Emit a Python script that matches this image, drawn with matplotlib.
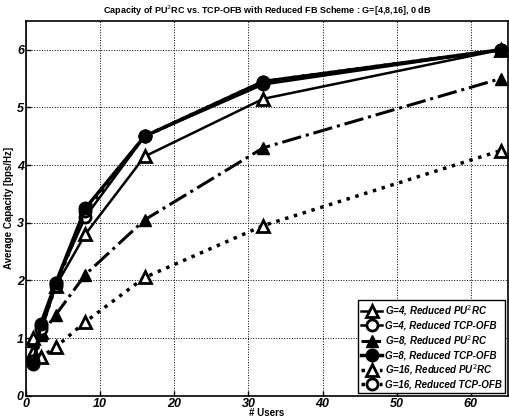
import matplotlib.pyplot as plt
import numpy as np

users = [1, 2, 4, 8, 16, 32, 64]

g4_pu2rc = [0.75, 1.1, 1.9, 2.8, 4.15, 5.15, 6.0]
g4_tcp = [0.6, 1.2, 1.95, 3.1, 4.5, 5.4, 6.0]
g8_pu2rc = [0.95, 1.05, 1.4, 2.1, 3.05, 4.3, 5.5]
g8_tcp = [0.55, 1.25, 1.95, 3.25, 4.5, 5.45, 6.0]
g16_pu2rc = [1.0, 0.67, 0.84, 1.28, 2.05, 2.95, 4.25]
g16_tcp = [0.6, 1.15, 1.9, 3.2, 4.5, 5.45, 6.0]

labels = ["G=4, Reduced PU$^2$RC", "G=4, Reduced TCP-OFB",
          "G=8, Reduced PU$^2$RC", "G=8, Reduced TCP-OFB",
          "G=16, Reduced PU$^2$RC", "G=16, Reduced TCP-OFB"]

plt.rcParams['font.family'] = ['Liberation Sans', 'DejaVu Sans']

fig = plt.figure(figsize=(5.1, 4.2), dpi=100)
ax = fig.add_axes([0.051, 0.058, 0.945, 0.892])

lw = 1.8
ms = 8
ax.plot(users, g4_pu2rc, '-', color='k', lw=lw, marker='^', ms=ms, mfc='white', mew=2, label=labels[0], zorder=3)
ax.plot(users, g4_tcp, '-', color='k', lw=lw, marker='o', ms=ms, mfc='white', mew=2, label=labels[1], zorder=3)
ax.plot(users, g8_pu2rc, '-.', color='k', lw=2.2, marker='^', ms=ms + 1, mfc='k', label=labels[2], zorder=3)
ax.plot(users, g8_tcp, '-', color='k', lw=2.5, marker='o', ms=ms + 1, mfc='k', label=labels[3], zorder=5)
ax.plot(users, g16_pu2rc, ':', color='k', lw=2.5, marker='^', ms=ms, mfc='white', mew=2, label=labels[4], zorder=3)
ax.plot(users, g16_tcp, ':', color='k', lw=2.5, marker='o', ms=ms, mfc='white', mew=2, label=labels[5], zorder=4)

ax.set_xlim(0, 65)
ax.set_ylim(0, 6.5)
ax.set_xticks(np.arange(0, 70, 10))
ax.set_yticks(np.arange(0, 7, 1))
ax.grid(True, linestyle=':', color='k', lw=0.7)
ax.tick_params(direction='in', labelsize=9, pad=1.5, width=1)
for t in ax.get_xticklabels() + ax.get_yticklabels():
    t.set_fontweight('bold')
    t.set_fontstyle('italic')
for s in ax.spines.values():
    s.set_linewidth(1.2)

ax.set_xlabel("# Users", fontsize=7, fontweight='bold', labelpad=-1)
ax.set_ylabel("Average Capacity [bps/Hz]", fontsize=7, fontweight='bold', labelpad=2)
ax.set_title("Capacity of PU$^2$RC vs. TCP-OFB with Reduced FB Scheme : G=[4,8,16], 0 dB",
             fontsize=6.5, fontweight='bold', pad=5)

leg = ax.legend(loc='lower right', prop={'weight': 'bold', 'style': 'italic', 'size': 7},
                handlelength=2.2, handletextpad=0.3, labelspacing=0.25, borderpad=0.3,
                fancybox=False, edgecolor='k', framealpha=1, borderaxespad=0.3)
leg.get_frame().set_linewidth(1.0)
leg.set_zorder(10)

fig.savefig("out.png", dpi=100)
